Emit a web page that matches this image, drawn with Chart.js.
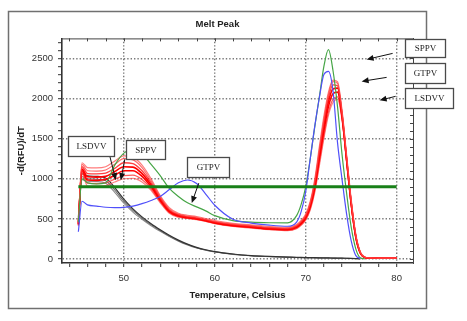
<!DOCTYPE html>
<html>
<head>
<meta charset="utf-8">
<script src="https://cdn.jsdelivr.net/npm/chart.js@4.4.1/dist/chart.umd.min.js"></script>
<style>
  html, body { margin: 0; padding: 0; background: #fff; }
  canvas { display: block; }
</style>
</head>
<body>
<canvas id="chart" width="467" height="321"></canvas>
<script>
// temperatures (Celsius) shared by every melt curve
const TEMPS = [45, 45.4, 46, 47, 48, 49, 50, 51, 52, 53, 54, 55, 56, 57, 58, 59, 60, 62, 64, 66, 68,
  69, 69.5, 70, 70.5, 71, 71.5, 72, 72.5, 73, 73.5, 74, 74.5, 75, 75.5, 76, 76.5, 77, 78, 80];

// LSDVV replicates (red)
const LSDVV_1 = [470, 1200, 1140, 1135, 1150, 1220, 1285, 1270, 1170, 1000, 790, 640, 570, 545, 530, 505, 480, 445, 425, 405, 395,
  430, 480, 560, 720, 1000, 1400, 1780, 2080, 2230, 2210, 1850, 1300, 750, 320, 90, 25, 15, 12, 10];
const LSDVV_2 = [460, 1180, 1100, 1095, 1110, 1180, 1250, 1235, 1140, 975, 775, 625, 560, 535, 520, 495, 470, 435, 415, 395, 385,
  420, 470, 545, 700, 970, 1360, 1740, 2050, 2210, 2190, 1830, 1280, 730, 300, 85, 22, 14, 12, 10];
const LSDVV_3 = [450, 1150, 1065, 1060, 1070, 1130, 1200, 1190, 1100, 950, 760, 610, 550, 525, 510, 488, 462, 428, 408, 388, 378,
  410, 460, 535, 690, 950, 1330, 1700, 2010, 2170, 2160, 1800, 1250, 710, 290, 80, 20, 13, 11, 10];
const LSDVV_4 = [440, 1120, 1025, 1020, 1030, 1090, 1150, 1145, 1065, 925, 745, 600, 545, 520, 505, 482, 455, 420, 400, 380, 370,
  400, 450, 525, 670, 920, 1290, 1650, 1960, 2120, 2130, 1790, 1240, 700, 285, 78, 20, 13, 11, 9];
const LSDVV_5 = [430, 1100, 985, 980, 990, 1045, 1100, 1100, 1030, 900, 730, 590, 535, 515, 500, 478, 450, 415, 395, 375, 365,
  395, 440, 510, 650, 890, 1250, 1600, 1900, 2060, 2080, 1770, 1230, 690, 280, 75, 18, 12, 10, 9];
const LSDVV_6 = [420, 1080, 945, 940, 950, 995, 1040, 1045, 990, 875, 715, 580, 528, 510, 495, 472, 445, 410, 390, 370, 358,
  385, 430, 495, 630, 860, 1200, 1540, 1830, 1990, 2020, 1750, 1220, 680, 275, 72, 18, 12, 10, 9];
const LSDVV_7 = [410, 1060, 910, 905, 915, 960, 1000, 1005, 960, 855, 700, 570, 520, 505, 490, 468, 440, 405, 385, 365, 352,
  378, 420, 485, 610, 830, 1160, 1500, 1790, 1950, 1990, 1730, 1210, 670, 270, 70, 17, 12, 10, 8];

const SPPV = [460, 1000, 950, 935, 950, 1170, 1320, 1360, 1310, 1180, 1040, 880, 780, 700, 650, 600, 540, 478, 460, 452, 450,
  540, 680, 900, 1250, 1650, 2020, 2400, 2610, 2350, 1900, 1300, 820, 400, 130, 15, 2, null, null, null];
const GTPV = [340, 720, 675, 660, 645, 640, 643, 660, 690, 730, 780, 865, 950, 985, 940, 810, 670, 495, 448, 422, 408,
  460, 590, 840, 1250, 1660, 2010, 2300, 2340, 2100, 1450, 990, 560, 230, 45, 5, null, null, null, null];

// no-template controls (grey)
const NTC_1 = [520, 1060, 1035, 1030, 1010, 890, 745, 625, 525, 440, 365, 295, 235, 185, 145, 115, 92, 62, 42, 32, 24,
  20, 19, 18, 17, 16, 15, 14, 13, 12, 11, 10, 9, 8, 6, 3, null, null, null, null];
const NTC_2 = [500, 1025, 1000, 995, 975, 860, 720, 605, 510, 428, 355, 287, 228, 180, 141, 112, 90, 60, 41, 31, 23,
  19, 18, 17, 16, 15, 14, 13, 12, 11, 10, 9, 8, 7, 5, 2, null, null, null, null];
const NTC_3 = [480, 990, 970, 965, 945, 830, 695, 585, 495, 415, 345, 280, 222, 175, 137, 109, 88, 58, 40, 30, 22,
  18, 17, 16, 15, 14, 13, 12, 11, 10, 9, 8, 7, 6, 4, 1, null, null, null, null];

const THRESHOLD = 900;
const THRESHOLD_SPAN = [45, 80];

const X_LABELS = [50, 60, 70, 80];
const X_MINOR = [44, 46, 48, 50, 52, 54, 56, 58, 60, 62, 64, 66, 68, 70, 72, 74, 76, 78, 80];
const Y_LABELS = [0, 500, 1000, 1500, 2000, 2500];

// text callouts: box corners and arrow ends in chart units
const CALLOUTS = [
  { text: "LSDVV", box: [43.85, 1530, 48.9, 1281], arrows: [[48.46, 1281, 49.12, 983]] },
  { text: "SPPV", box: [50.22, 1480, 54.51, 1244], arrows: [[50.11, 1244, 49.67, 983]] },
  { text: "GTPV", box: [56.92, 1269, 61.54, 1020], arrows: [[58.24, 945, 57.47, 697]] },
  { text: "SPPV", box: [80.88, 2737, 85.27, 2513], arrows: [[79.56, 2563, 76.7, 2488]] },
  { text: "GTPV", box: [80.88, 2438, 85.27, 2189], arrows: [[78.9, 2264, 76.15, 2214]] },
  { text: "LSDVV", box: [80.88, 2127, 86.15, 1878], arrows: [[79.89, 2028, 78.13, 1978]] },
];

const yMinor = [];
for (let v = 0; v <= 2700; v += 100) yMinor.push(v);

function pts(values){
  return TEMPS.map((t, i) => ({ x: t, y: values[i] }));
}

function curve(values, color, width, order){
  return {
    data: pts(values),
    borderColor: color,
    borderWidth: width,
    pointRadius: 0,
    cubicInterpolationMode: "monotone",
    spanGaps: false,
    order
  };
}

const datasets = [
  {
    data: THRESHOLD_SPAN.map(t => ({ x: t, y: THRESHOLD })),
    borderColor: "rgb(24,128,24)",
    borderWidth: 3,
    pointRadius: 0,
    order: 0
  },
  curve(GTPV, "rgb(80,80,250)", 1.2, 1),
  curve(SPPV, "rgb(70,165,70)", 1.2, 2),
  curve(LSDVV_1, "rgba(255,70,70,0.7)", 1.2, 3),
  curve(LSDVV_2, "rgba(255,60,60,0.75)", 1.2, 3),
  curve(LSDVV_3, "rgba(255,30,30,0.85)", 1.3, 3),
  curve(LSDVV_4, "rgb(255,0,0)", 1.6, 3),
  curve(LSDVV_5, "rgb(255,0,0)", 1.6, 3),
  curve(LSDVV_6, "rgba(255,50,50,0.8)", 1.3, 3),
  curve(LSDVV_7, "rgba(255,80,80,0.7)", 1.2, 3),
  curve(NTC_1, "#333", 1.2, 4),
  curve(NTC_2, "#666", 1.1, 4),
  curve(NTC_3, "#8c8c8c", 1.1, 4),
];

const FONT = "'Liberation Sans', Arial, sans-serif";

// frame, top/right tick marks and callouts
const decor = {
  id: "decor",
  beforeDraw(chart){
    const ctx = chart.ctx;
    ctx.save();
    ctx.strokeStyle = "#707070";
    ctx.lineWidth = 1.5;
    ctx.strokeRect(8.5, 11.5, 418, 297);
    ctx.restore();
  },
  afterDraw(chart){
    const { ctx, chartArea: a, scales } = chart;
    const x = scales.x, y = scales.y;
    ctx.save();
    ctx.strokeStyle = "#444";
    ctx.lineWidth = 1;
    ctx.beginPath();
    ctx.moveTo(a.left, a.top + 0.5);
    ctx.lineTo(a.right, a.top + 0.5);
    X_MINOR.forEach(v => {
      const px = Math.round(x.getPixelForValue(v)) + 0.5;
      ctx.moveTo(px, a.top);
      ctx.lineTo(px, a.top + 3);
    });
    yMinor.forEach(v => {
      const py = Math.round(y.getPixelForValue(v)) + 0.5;
      ctx.moveTo(a.right, py);
      ctx.lineTo(a.right - 3, py);
    });
    ctx.stroke();

    CALLOUTS.forEach(c => {
      c.arrows.forEach(([x1, y1, x2, y2]) => {
        const ax = x.getPixelForValue(x1), ay = y.getPixelForValue(y1);
        const bx = x.getPixelForValue(x2), by = y.getPixelForValue(y2);
        const ang = Math.atan2(by - ay, bx - ax);
        ctx.strokeStyle = "#111";
        ctx.fillStyle = "#111";
        ctx.lineWidth = 1;
        ctx.beginPath();
        ctx.moveTo(ax, ay);
        ctx.lineTo(bx - 5 * Math.cos(ang), by - 5 * Math.sin(ang));
        ctx.stroke();
        ctx.beginPath();
        ctx.moveTo(bx, by);
        ctx.lineTo(bx - 7 * Math.cos(ang) + 3 * Math.sin(ang), by - 7 * Math.sin(ang) - 3 * Math.cos(ang));
        ctx.lineTo(bx - 7 * Math.cos(ang) - 3 * Math.sin(ang), by - 7 * Math.sin(ang) + 3 * Math.cos(ang));
        ctx.closePath();
        ctx.fill();
      });
      const l = Math.round(x.getPixelForValue(c.box[0])) + 0.5;
      const t = Math.round(y.getPixelForValue(c.box[1])) + 0.5;
      const r = Math.round(x.getPixelForValue(c.box[2])) + 0.5;
      const b = Math.round(y.getPixelForValue(c.box[3])) + 0.5;
      ctx.fillStyle = "#fff";
      ctx.fillRect(l, t, r - l, b - t);
      ctx.strokeStyle = "#4a4a4a";
      ctx.lineWidth = 1.3;
      ctx.strokeRect(l, t, r - l, b - t);
      ctx.fillStyle = "#222";
      ctx.font = "9px 'Liberation Serif', 'Times New Roman', serif";
      ctx.textAlign = "center";
      ctx.textBaseline = "middle";
      ctx.fillText(c.text, (l + r) / 2, (t + b) / 2 + 0.5);
    });
    ctx.restore();
  }
};

const majorGrid = (step) => (c) => (c.tick && c.tick.value % step === 0) ? "#7a7a7a" : "rgba(0,0,0,0)";

new Chart(document.getElementById("chart"), {
  type: "line",
  data: { datasets },
  plugins: [decor],
  options: {
    responsive: false,
    animation: false,
    layout: { padding: { left: 0, right: 32, top: 19, bottom: 0 } },
    plugins: {
      legend: { display: false },
      tooltip: { enabled: false },
      title: {
        display: true,
        text: "Melt Peak",
        color: "#222",
        font: { family: FONT, size: 9.5, weight: "bold" },
        padding: { top: 0, bottom: 8 }
      }
    },
    scales: {
      x: {
        type: "linear",
        min: 43.2,
        max: 81.8,
        afterBuildTicks: s => { s.ticks = X_MINOR.map(v => ({ value: v })); },
        afterFit: s => { s.height = 58; },
        ticks: {
          autoSkip: false,
          maxRotation: 0,
          padding: 6,
          color: "#333",
          font: { family: FONT, size: 9.5 },
          callback: v => X_LABELS.includes(v) ? String(v) : ""
        },
        grid: {
          color: majorGrid(10),
          lineWidth: 1.4,
          tickLength: 4,
          tickColor: "#333",
          tickWidth: 1
        },
        border: { display: true, color: "#333", width: 1.6, dash: [1.4, 2] },
        title: {
          display: true,
          text: "Temperature, Celsius",
          color: "#222",
          font: { family: FONT, size: 9.5, weight: "bold" },
          padding: { top: 0, bottom: 20 }
        }
      },
      y: {
        min: -50,
        max: 2750,
        afterBuildTicks: s => { s.ticks = yMinor.map(v => ({ value: v })); },
        afterFit: s => { s.width = 62; },
        ticks: {
          autoSkip: false,
          padding: 5,
          color: "#333",
          font: { family: FONT, size: 9.5 },
          callback: v => Y_LABELS.includes(v) ? String(v) : ""
        },
        grid: {
          color: majorGrid(500),
          lineWidth: 1.4,
          tickLength: 4,
          tickColor: "#333",
          tickWidth: 1
        },
        border: { display: true, color: "#333", width: 1.6, dash: [1.4, 2] },
        title: {
          display: true,
          text: "-d(RFU)/dT",
          color: "#222",
          font: { family: FONT, size: 9.5, weight: "bold" },
          padding: { top: 16, bottom: 0 }
        }
      },
      yRight: {
        position: "right",
        min: -50,
        max: 2750,
        afterFit: s => { s.width = 22; },
        ticks: { display: false },
        grid: { display: false, drawOnChartArea: false },
        border: { display: true, color: "#444", width: 1 }
      }
    }
  }
});
</script>
</body>
</html>
